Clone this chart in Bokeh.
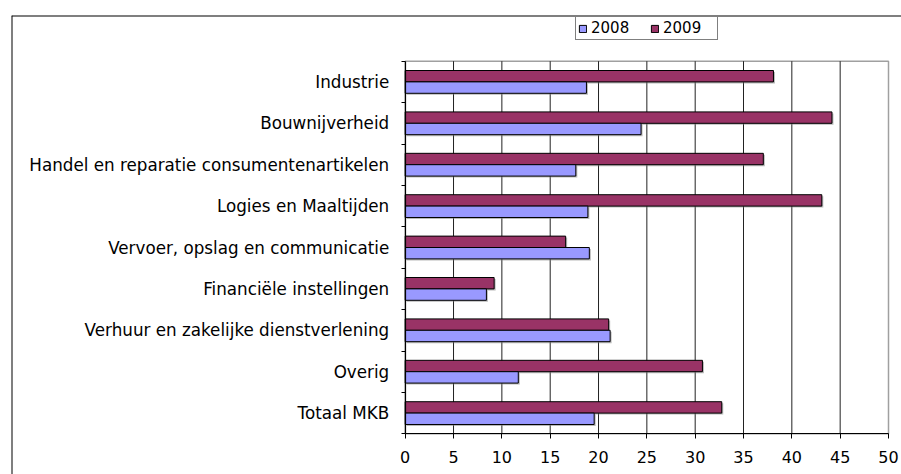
from bokeh.plotting import figure
from bokeh.models import (ColumnDataSource, Range1d, FixedTicker, Legend, LegendItem, LinearAxis)
from bokeh.transform import dodge
from bokeh.embed import file_html
from bokeh.resources import INLINE

# ---- data ----
categories = [
    "Industrie",
    "Bouwnijverheid",
    "Handel en reparatie consumentenartikelen",
    "Logies en Maaltijden",
    "Vervoer, opslag en communicatie",
    "Financiële instellingen",
    "Verhuur en zakelijke dienstverlening",
    "Overig",
    "Totaal MKB",
]
values_2008 = [18.75, 24.4, 17.65, 18.9, 19.05, 8.4, 21.2, 11.7, 19.55]
values_2009 = [38.1, 44.15, 37.05, 43.1, 16.6, 9.2, 21.05, 30.75, 32.75]
series_names = ["2008", "2009"]
x_ticks = [0, 5, 10, 15, 20, 25, 30, 35, 40, 45, 50]

# ---- styling / layout (pixels) ----
FONT = "DejaVu Sans"
C2008 = "#9999FF"
C2009 = "#993366"
BAR_H = 0.275
SHADOW_PX = 1.5
W, H = 901, 474
CHART_LEFT, CHART_TOP = 11, 15          # outer chart border
PLOT_LEFT, PLOT_RIGHT = 404.7, 888.0    # plot area
PLOT_TOP, PLOT_BOTTOM = 60.7, 433.3

n = len(categories)
xmin, xmax = x_ticks[0], x_ticks[-1]
centers = [n - 0.5 - i for i in range(n)]
boundaries = [float(i) for i in range(n + 1)]

ux = (PLOT_RIGHT - PLOT_LEFT) / (xmax - xmin)
uy = (PLOT_BOTTOM - PLOT_TOP) / n
x_range = Range1d(xmin - (PLOT_LEFT - CHART_LEFT) / ux, xmax + (W - PLOT_RIGHT) / ux)
y_range = Range1d(0 - (H - PLOT_BOTTOM) / uy, n + (PLOT_TOP - CHART_TOP) / uy)

src = ColumnDataSource(dict(y=centers, v2008=values_2008, v2009=values_2009, cat=categories))

p = figure(width=W, height=H, output_backend="svg", toolbar_location=None,
           x_range=x_range, y_range=y_range,
           x_axis_location=None, y_axis_location=None,
           min_border_left=CHART_LEFT, min_border_top=CHART_TOP,
           min_border_right=0, min_border_bottom=0)
p.background_fill_color = "white"
p.border_fill_color = "white"
p.outline_line_color = None
p.grid.visible = False

# plot-area frame (grey top/right), gridlines
p.quad(left=xmin, right=xmax, bottom=0, top=n, fill_color="white",
       line_color="#a0a0a0", line_width=1.5)
grid_x = x_ticks[1:-1]
p.segment(x0=grid_x, x1=grid_x, y0=[0] * len(grid_x), y1=[n] * len(grid_x),
          line_color="#222222", line_width=1)

# soft bar shadows
sx, sy = SHADOW_PX / ux, SHADOW_PX / uy
for field, off in (("v2009", BAR_H / 2), ("v2008", -BAR_H / 2)):
    p.hbar(y=dodge("y", off - sy, range=p.y_range), right=dodge(field, sx, range=p.x_range),
           left=sx, height=BAR_H, source=src, fill_color="#808080", fill_alpha=0.55,
           line_color=None)

r09 = p.hbar(y=dodge("y", BAR_H / 2, range=p.y_range), right="v2009", left=0, height=BAR_H,
             source=src, fill_color=C2009, line_color="black", line_width=1)
r08 = p.hbar(y=dodge("y", -BAR_H / 2, range=p.y_range), right="v2008", left=0, height=BAR_H,
             source=src, fill_color=C2008, line_color="black", line_width=1)

# x axis (placed at y = 0 of the data)
xa = LinearAxis(fixed_location=0, bounds=(xmin, xmax), ticker=FixedTicker(ticks=x_ticks))
xa.axis_line_color = "black"
xa.axis_line_width = 1.2
xa.major_tick_out = 5
xa.major_tick_in = 0
xa.minor_tick_out = 0
xa.minor_tick_in = 0
xa.major_tick_line_color = "black"
xa.major_label_text_font = FONT
xa.major_label_text_font_size = "16px"
xa.major_label_text_color = "black"
xa.major_label_standoff = 12
p.add_layout(xa, "below")

# y axis: labels at category centres, tick marks at category boundaries
ya = LinearAxis(fixed_location=xmin, bounds=(0, n),
                ticker=FixedTicker(ticks=centers, minor_ticks=boundaries))
ya.major_label_overrides = {c: lab for c, lab in zip(centers, categories)}
ya.axis_line_color = "black"
ya.axis_line_width = 1.2
ya.major_tick_out = 0
ya.major_tick_in = 0
ya.minor_tick_out = 4
ya.minor_tick_in = 0
ya.minor_tick_line_color = "black"
ya.major_label_text_font = FONT
ya.major_label_text_font_size = "16.75px"
ya.major_label_text_color = "black"
ya.major_label_standoff = 12
p.add_layout(ya, "left")

# outer chart border: left and top edges
def border_axis(**kw):
    return LinearAxis(ticker=FixedTicker(ticks=[]), axis_line_color="black", axis_line_width=2,
                      major_tick_line_color=None, minor_tick_line_color=None,
                      major_label_text_font_size="0px", **kw)

p.add_layout(border_axis(fixed_location=x_range.start), "left")
p.add_layout(border_axis(fixed_location=y_range.end), "above")

# legend
legend = Legend(items=[LegendItem(label=series_names[0], renderers=[r08]),
                       LegendItem(label=series_names[1], renderers=[r09])],
                orientation="horizontal", location=(575 - CHART_LEFT, H - 40),
                glyph_width=9, glyph_height=9, label_standoff=4, label_width=52,
                label_height=12, spacing=7, padding=2, margin=0,
                label_text_font=FONT, label_text_font_size="15px", label_text_color="black",
                border_line_color="black", border_line_width=1,
                background_fill_color="white", background_fill_alpha=1)
p.add_layout(legend, "center")

open("out.html", "w").write(file_html(p, INLINE))
